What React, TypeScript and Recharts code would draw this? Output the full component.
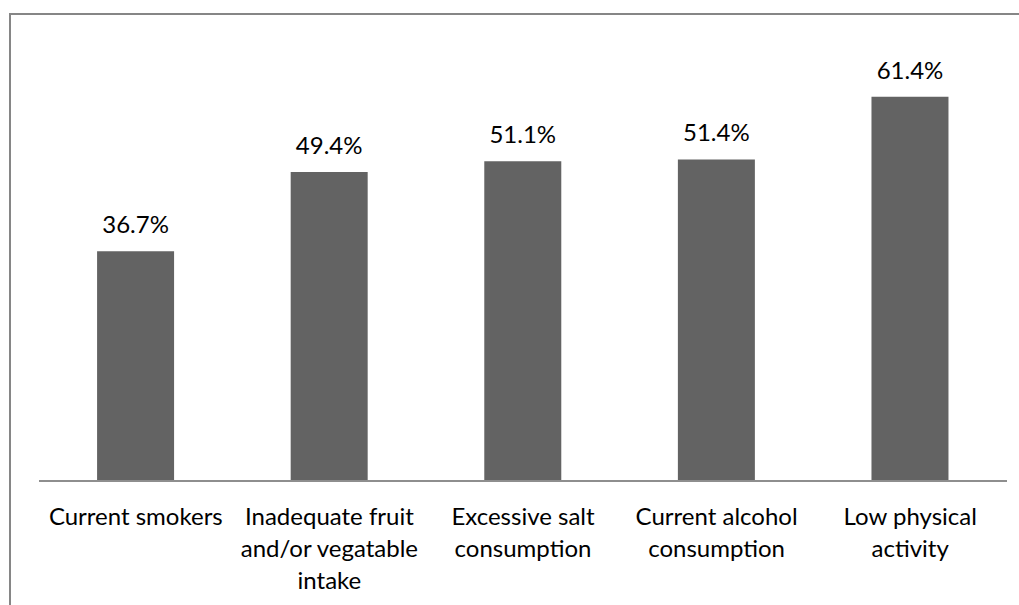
import React from 'react';
import { BarChart, Bar, XAxis, YAxis, LabelList } from 'recharts';

const categories = [
  'Current smokers',
  'Inadequate fruit\nand/or vegatable\nintake',
  'Excessive salt\nconsumption',
  'Current alcohol\nconsumption',
  'Low physical\nactivity',
];
const values = [36.7, 49.4, 51.1, 51.4, 61.4];

const data = categories.map((name, i) => ({ name, value: values[i] }));

const FONT = 'Lato, "Open Sans", sans-serif';

const MultiLineTick = (props: any) => {
  const { x, y, payload } = props;
  const lines: string[] = String(payload.value).split('\n');
  return (
    <text x={x} y={y} textAnchor="middle" fill="#000" fontSize={24} fontFamily={FONT}>
      {lines.map((line, i) => (
        <tspan key={i} x={x} dy={i === 0 ? 36 : 32}>
          {line}
        </tspan>
      ))}
    </text>
  );
};

const App: React.FC = () => {
  return (
    <div style={{ position: 'absolute', left: 0, top: 0, width: 1019, height: 605, background: '#fff' }}>
      <div
        style={{
          position: 'absolute',
          left: 9,
          top: 13,
          width: 1010,
          height: 592,
          borderLeft: '2px solid #868686',
          borderTop: '2px solid #868686',
        }}
      />
      <BarChart
        width={1019}
        height={605}
        data={data}
        margin={{ top: 43, right: 12, left: 39, bottom: 0 }}
        barCategoryGap="30%"
        style={{ position: 'absolute', left: 0, top: 0 }}
      >
        <XAxis
          dataKey="name"
          height={124}
          interval={0}
          tickLine={false}
          axisLine={{ stroke: '#8e8e8e', strokeWidth: 2 }}
          tick={<MultiLineTick />}
        />
        <YAxis hide domain={[0, 70]} />
        <Bar dataKey="value" fill="#636363" isAnimationActive={false}>
          <LabelList
            dataKey="value"
            position="top"
            offset={18}
            formatter={(v: any) => `${Number(v).toFixed(1)}%`}
            style={{ fill: '#000', fontSize: 24, fontFamily: FONT }}
          />
        </Bar>
      </BarChart>
    </div>
  );
};

export default App;
